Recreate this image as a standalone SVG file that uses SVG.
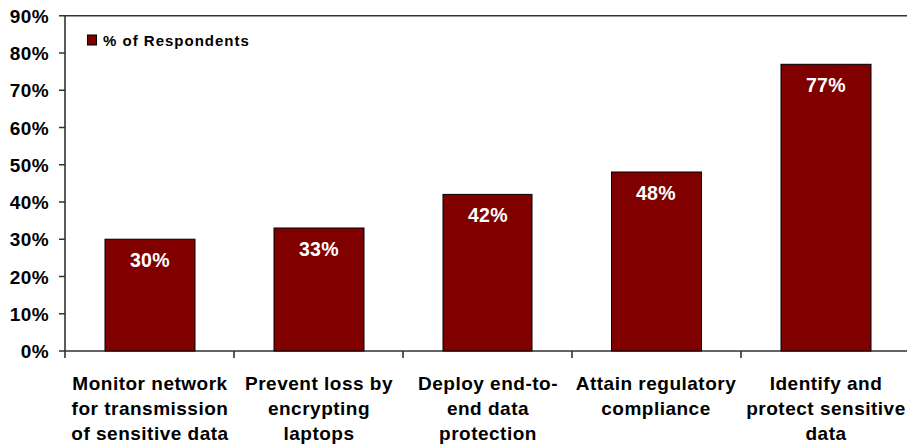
<svg xmlns="http://www.w3.org/2000/svg" width="907" height="445" viewBox="0 0 907 445">
<style>
text{font-family:"Liberation Sans",Arial,sans-serif;font-weight:bold;}
.ax{stroke:#333;stroke-width:1.6;fill:none;}
.bar{fill:#800000;stroke:#000;stroke-width:1;}
.yl{font-size:19px;fill:#000;text-anchor:end;letter-spacing:0.4px;}
.cl{font-size:19px;fill:#000;text-anchor:middle;letter-spacing:0.5px;}
.vl{font-size:19.5px;fill:#fff;text-anchor:middle;letter-spacing:0.4px;}
.lg{font-size:15px;fill:#000;letter-spacing:1px;}
</style>
<rect width="907" height="445" fill="#fff"/>
<g id="axes">
<path class="ax" d="M59 15.7H907M65 15.7V358M59 351H907"/>
<path class="ax" d="M59 53H65M59 90.2H65M59 127.5H65M59 164.7H65M59 202H65M59 239.2H65M59 276.5H65M59 313.7H65"/>
<path class="ax" d="M234 351V358M403 351V358M572 351V358M741 351V358"/>
<text class="yl" x="49" y="23">90%</text>
<text class="yl" x="49" y="60">80%</text>
<text class="yl" x="49" y="97">70%</text>
<text class="yl" x="49" y="135">60%</text>
<text class="yl" x="49" y="172">50%</text>
<text class="yl" x="49" y="209">40%</text>
<text class="yl" x="49" y="246">30%</text>
<text class="yl" x="49" y="284">20%</text>
<text class="yl" x="49" y="321">10%</text>
<text class="yl" x="49" y="358">0%</text>
</g>
<g id="legend">
<rect class="bar" x="87.5" y="35" width="9" height="10"/>
<text class="lg" x="103" y="46">% of Respondents</text>
</g>
<g id="bar1">
<rect class="bar" x="105" y="239.2" width="90" height="111.8"/>
<text class="vl" x="150" y="267">30%</text>
<text class="cl" x="150" y="390">Monitor network</text>
<text class="cl" x="150" y="415">for transmission</text>
<text class="cl" x="150" y="440">of sensitive data</text>
</g>
<g id="bar2">
<rect class="bar" x="274" y="228" width="90" height="123"/>
<text class="vl" x="319" y="256">33%</text>
<text class="cl" x="319" y="390">Prevent loss by</text>
<text class="cl" x="319" y="415">encrypting</text>
<text class="cl" x="319" y="440">laptops</text>
</g>
<g id="bar3">
<rect class="bar" x="443" y="194.4" width="89" height="156.6"/>
<text class="vl" x="488" y="222">42%</text>
<text class="cl" x="488" y="390">Deploy end-to-</text>
<text class="cl" x="488" y="415">end data</text>
<text class="cl" x="488" y="440">protection</text>
</g>
<g id="bar4">
<rect class="bar" x="611.5" y="172" width="90" height="179"/>
<text class="vl" x="656" y="199.5">48%</text>
<text class="cl" x="656" y="390">Attain regulatory</text>
<text class="cl" x="656" y="415">compliance</text>
</g>
<g id="bar5">
<rect class="bar" x="781" y="64.3" width="90" height="286.7"/>
<text class="vl" x="826" y="92">77%</text>
<text class="cl" x="826" y="390">Identify and</text>
<text class="cl" x="826" y="415">protect sensitive</text>
<text class="cl" x="826" y="440">data</text>
</g>
</svg>
